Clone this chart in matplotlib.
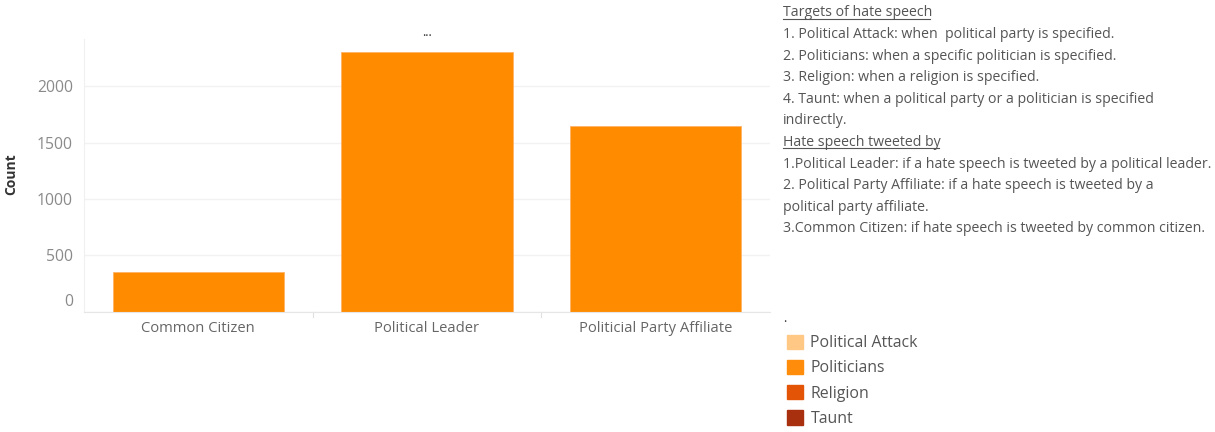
import matplotlib
matplotlib.use("Agg")
import matplotlib.pyplot as plt
from matplotlib.patches import Patch
from matplotlib.lines import Line2D
import matplotlib.transforms as mtransforms

plt.rcParams['font.family'] = ['Open Sans', 'DejaVu Sans']

categories = ["Common Citizen", "Political Leader", "Politicial Party Affiliate"]
counts = [355, 2310, 1652]
yticks = [0, 500, 1000, 1500, 2000]
legend_labels = ["Political Attack", "Politicians", "Religion", "Taunt"]
legend_colors = ["#FFC985", "#FF8C0A", "#E45406", "#A8300E"]
bar_color = "#FF8C00"

notes = [
    ("Targets of hate speech", True),
    ("1. Political Attack: when  political party is specified.", False),
    ("2. Politicians: when a specific politician is specified.", False),
    ("3. Religion: when a religion is specified.", False),
    ("4. Taunt: when a political party or a politician is specified", False),
    ("indirectly.", False),
    ("Hate speech tweeted by", True),
    ("1.Political Leader: if a hate speech is tweeted by a political leader.", False),
    ("2. Political Party Affiliate: if a hate speech is tweeted by a", False),
    ("political party affiliate.", False),
    ("3.Common Citizen: if hate speech is tweeted by common citizen.", False),
]

W, H = 1215, 432
fig = plt.figure(figsize=(W / 100, H / 100), dpi=100)

def px(x0, y0, x1, y1):
    return [x0 / W, 1 - y1 / H, (x1 - x0) / W, (y1 - y0) / H]

ax = fig.add_axes(px(84, 39, 770, 311.7))
x = range(len(categories))
ax.bar(x, counts, width=0.75, color=bar_color, edgecolor="#FFB266", linewidth=0.6, zorder=2)
ax.set_xlim(-0.5, len(categories) - 0.5)
ax.set_ylim(0, 2421)
ax.set_yticks(yticks)
ax.set_yticklabels([str(v) for v in yticks])
ax.set_xticks(list(x))
ax.set_xticklabels(categories)
ax.grid(axis="y", color="#F2F2F2", linewidth=1, zorder=0)
for s in ["top", "right"]:
    ax.spines[s].set_visible(False)
ax.spines["left"].set_color("#F0F0F0")
ax.spines["bottom"].set_color("#E6E6E6")
ax.tick_params(axis="y", length=0, pad=8, labelsize=11.3, labelcolor="#8A8A8A")
ax.tick_params(axis="x", length=0, pad=7, labelsize=10.6, labelcolor="#666666")
for b in [0.5, 1.5]:
    ax.plot([b, b], [0, -0.02], transform=mtransforms.blended_transform_factory(ax.transData, ax.transAxes),
            color="#E0E0E0", linewidth=0.8, clip_on=False)
lbl0 = ax.get_yticklabels()[0]
lbl0.set_transform(lbl0.get_transform() + mtransforms.ScaledTranslation(0, 12 / 100, fig.dpi_scale_trans))
ax.set_ylabel("Count", fontsize=10, fontweight="bold", color="#333333")
ax.yaxis.set_label_coords(-0.0955, 0.505)
ax.set_title("...", fontsize=9, color="#333333", x=0.5, y=1.0, pad=2)

y = 13
texts = []
for t, underline in notes:
    tx = fig.text(783 / W, 1 - y / H, t, fontsize=10.15, color="#555555", va="center", ha="left")
    texts.append((tx, underline))
    y += 21.6

fig.canvas.draw()
r = fig.canvas.get_renderer()
for tx, underline in texts:
    if underline:
        bb = tx.get_window_extent(r)
        yl = bb.y0 + 2
        fig.add_artist(Line2D([bb.x0 / W, (bb.x1 - 2) / W], [yl / H, yl / H], color="#555555", linewidth=0.8))

fig.text(783 / W, 1 - 318 / H, ".", fontsize=9, color="#333333", va="center")
handles = [Patch(facecolor=c, edgecolor=c) for c in legend_colors]
leg = fig.legend(handles, legend_labels, loc="upper left", bbox_to_anchor=(782 / W, 1 - 330 / H),
                 frameon=False, fontsize=11.4, handlelength=1.0, handleheight=1.0,
                 handletextpad=0.5, labelspacing=0.55, borderaxespad=0, borderpad=0.3)
for t in leg.get_texts():
    t.set_color("#555555")

fig.savefig("out.png", dpi=100)
